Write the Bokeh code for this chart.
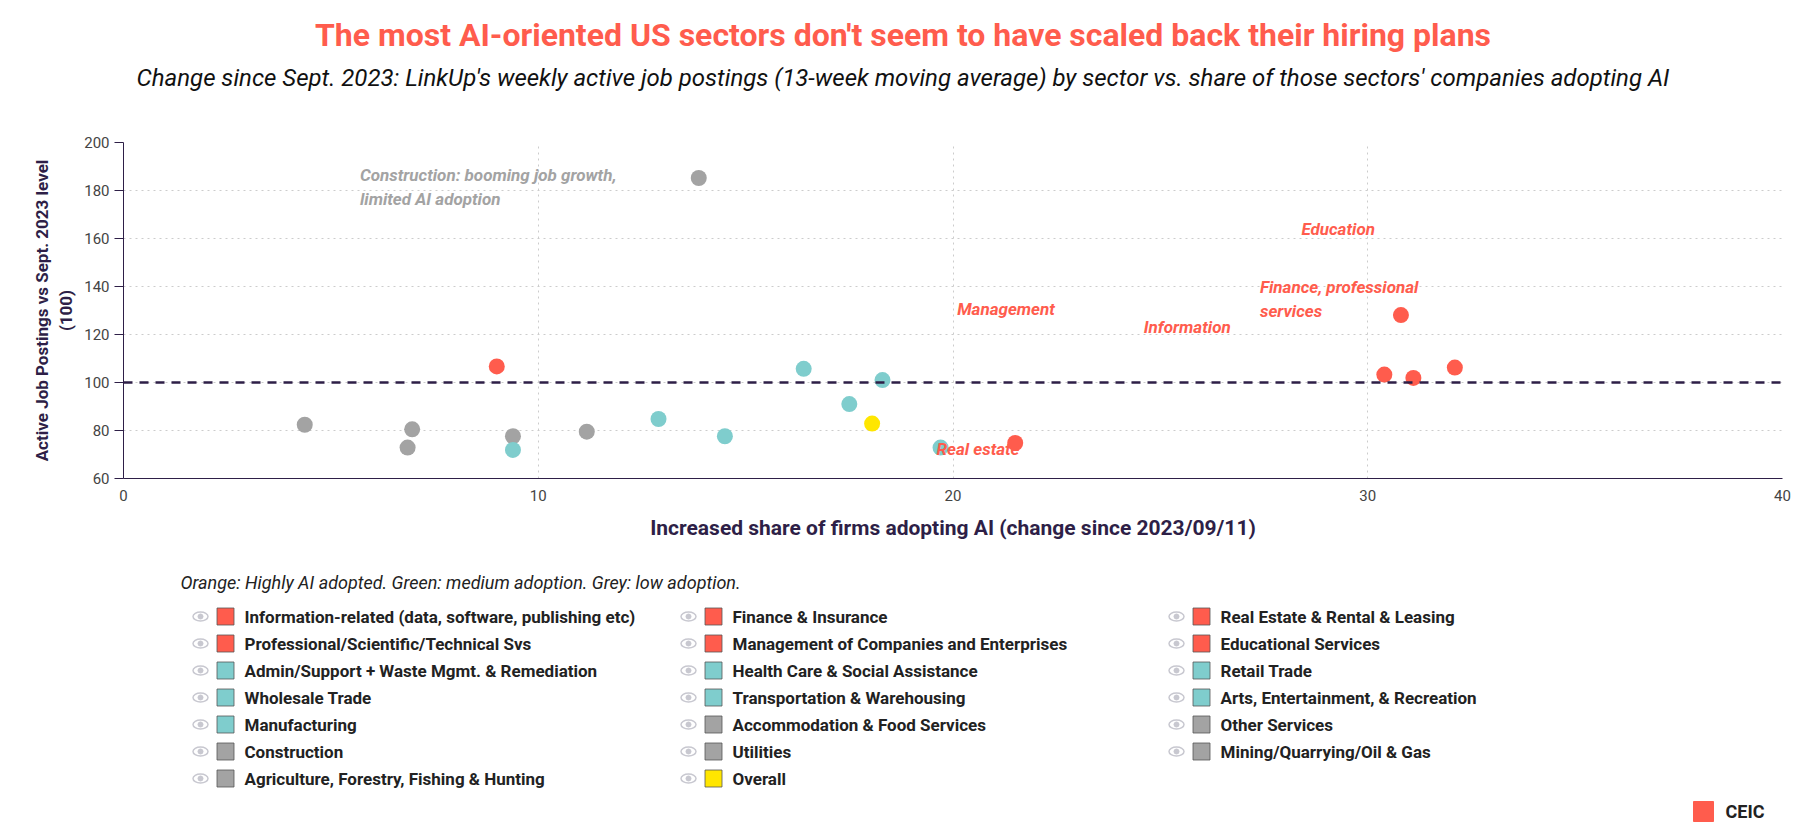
from bokeh.plotting import figure
from bokeh.models import Div, Range1d, Span, FixedTicker, ColumnDataSource
from bokeh.layouts import column
from bokeh.core.properties import value
from bokeh.embed import file_html
from bokeh.resources import INLINE

RED, TEAL, GREY, YELLOW = "#FF5C4D", "#7FCDCD", "#A3A3A3", "#FFE600"
DARK = "#2E1F47"

red_x = [9.0, 21.5, 30.4, 30.8, 31.1, 32.1]
red_y = [106.7, 74.8, 103.3, 128.1, 101.9, 106.2]
teal_x = [9.39, 12.9, 14.5, 16.4, 17.5, 18.3, 19.7]
teal_y = [71.9, 84.8, 77.6, 105.7, 91.0, 101.0, 72.9]
grey_x = [4.37, 6.85, 6.96, 9.39, 11.17, 13.87]
grey_y = [82.4, 72.9, 80.5, 77.6, 79.5, 185.2]
overall_x = [18.05]
overall_y = [82.9]

notes_text = ["Construction: booming job growth,\nlimited AI adoption", "Management", "Information",
              "Finance, professional\nservices", "Education", "Real estate"]
notes_x = [5.7, 20.1, 24.6, 27.4, 28.4, 19.6]
notes_y = [181.4, 130.5, 123.3, 135.0, 163.8, 72.4]
notes_color = [GREY, RED, RED, RED, RED, RED]

legend_names = [
    "Information-related (data, software, publishing etc)", "Finance & Insurance", "Real Estate & Rental & Leasing",
    "Professional/Scientific/Technical Svs", "Management of Companies and Enterprises", "Educational Services",
    "Admin/Support + Waste Mgmt. & Remediation", "Health Care & Social Assistance", "Retail Trade",
    "Wholesale Trade", "Transportation & Warehousing", "Arts, Entertainment, & Recreation",
    "Manufacturing", "Accommodation & Food Services", "Other Services",
    "Construction", "Utilities", "Mining/Quarrying/Oil & Gas",
    "Agriculture, Forestry, Fishing & Hunting", "Overall"]
legend_colors = [RED]*6 + [TEAL]*7 + [GREY]*6 + [YELLOW]

FONT = "Roboto"
BL, BR = 123, 14

header = Div(text=(
    f"<div style='width:1796px;text-align:center;font-family:{FONT};'>"
    f"<div style='color:{RED};font-size:32px;font-weight:bold;margin-top:10px;line-height:40px;'>The most AI-oriented US sectors don't seem to have scaled back their hiring plans</div>"
    "<div style='color:#111;font-size:24px;font-style:italic;margin-top:8px;line-height:30px;'>Change since Sept. 2023: LinkUp's weekly active job postings (13-week moving average) by sector vs. share of those sectors' companies adopting AI</div>"
    "</div>"), width=1796, height=120)

p = figure(width=1796, height=412, output_backend="svg", toolbar_location=None,
           x_range=Range1d(0, 40), y_range=Range1d(60, 200),
           min_border_left=BL, min_border_right=BR, min_border_top=12, min_border_bottom=60)
p.outline_line_color = None
p.background_fill_color = "white"
p.xgrid.ticker = FixedTicker(ticks=[10, 20, 30])
p.xaxis.ticker = FixedTicker(ticks=[0, 10, 20, 30, 40])
p.yaxis.ticker = FixedTicker(ticks=[60, 80, 100, 120, 140, 160, 180, 200])
p.ygrid.ticker = FixedTicker(ticks=[80, 100, 120, 140, 160, 180, 200])
for g in (p.xgrid, p.ygrid):
    g.grid_line_color = "#CCCCCC"
    g.grid_line_dash = "2 4"
p.xaxis.axis_label = "Increased share of firms adopting AI (change since 2023/09/11)"
p.yaxis.axis_label = "Active Job Postings vs Sept. 2023 level\n(100)"
for ax in (p.xaxis, p.yaxis):
    ax.axis_line_color = DARK
    ax.axis_label_text_font = FONT
    ax.axis_label_text_font_style = "bold"
    ax.axis_label_text_color = DARK
    ax.major_label_text_font = FONT
    ax.major_label_text_color = "#444444"
    ax.major_label_text_font_size = "15px"
    ax.minor_tick_line_color = None
p.xaxis.axis_label_text_font_size = "21px"
p.yaxis.axis_label_text_font_size = "17px"
p.xaxis.axis_label_standoff = 12
p.xaxis.major_tick_line_color = None
p.yaxis.major_tick_line_color = DARK
p.yaxis.major_tick_out = 9
p.yaxis.major_tick_in = 0

p.add_layout(Span(location=100, dimension="width", line_color=DARK, line_dash="9 7", line_width=2.3))

for xs, ys, c in ((grey_x, grey_y, GREY), (teal_x, teal_y, TEAL), (red_x, red_y, RED), (overall_x, overall_y, YELLOW)):
    p.scatter(xs, ys, size=16, color=c, line_color=None)

p.text(x=notes_x, y=notes_y, text=notes_text, text_color=notes_color,
       text_font=value(FONT), text_font_style="bold italic", text_font_size="17px",
       text_baseline="middle", text_line_height=1.2)

lg = figure(width=1796, height=289, output_backend="svg", toolbar_location=None,
            x_range=Range1d(8 + BL, 1804 - BR), y_range=Range1d(829, 540),
            x_axis_location=None, y_axis_location=None,
            min_border_left=BL, min_border_right=BR, min_border_top=0, min_border_bottom=0)
lg.grid.visible = False
lg.outline_line_color = None
lg.text(x=[188], y=[580], text=["Orange: Highly AI adopted. Green: medium adoption. Grey: low adoption."],
        text_font=value(FONT), text_font_style="italic", text_font_size="18px", text_color="#222",
        text_baseline="middle")
col_x = [208, 696, 1184]
row_y0, row_dy = 614, 27
sx, sy, tx, ex = [], [], [], []
for i in range(len(legend_names)):
    r, c = divmod(i, 3)
    sx.append(col_x[c] + 25)
    ex.append(col_x[c])
    sy.append(row_y0 + r * row_dy)
    tx.append(col_x[c] + 44)
src = ColumnDataSource(dict(sx=sx, sy=sy, tx=tx, ex=ex, name=legend_names, color=legend_colors))
lg.ellipse(x="ex", y="sy", width=15, height=9, width_units="screen", height_units="screen", source=src,
           fill_color=None, line_color="#C8C8D0", line_width=1.5)
lg.scatter(x="ex", y="sy", size=5, source=src, color="#C8C8D0")
lg.scatter(x="sx", y="sy", marker="square", size=17, source=src, fill_color="color", line_color="#555", line_width=0.8)
lg.text(x="tx", y="sy", text="name", source=src, text_font=value(FONT), text_font_size="17px",
        text_font_style="bold", text_color="#222", text_baseline="middle")
lg.text(x=[1733], y=[809], text=["CEIC"], text_font=value(FONT), text_font_style="bold",
        text_font_size="18px", text_color="#222", text_baseline="middle")
lg.scatter(x=[1711], y=[809], marker="square", size=20, color=RED)

layout = column(header, p, lg, spacing=0)
open("out.html", "w").write(file_html(layout, INLINE))
